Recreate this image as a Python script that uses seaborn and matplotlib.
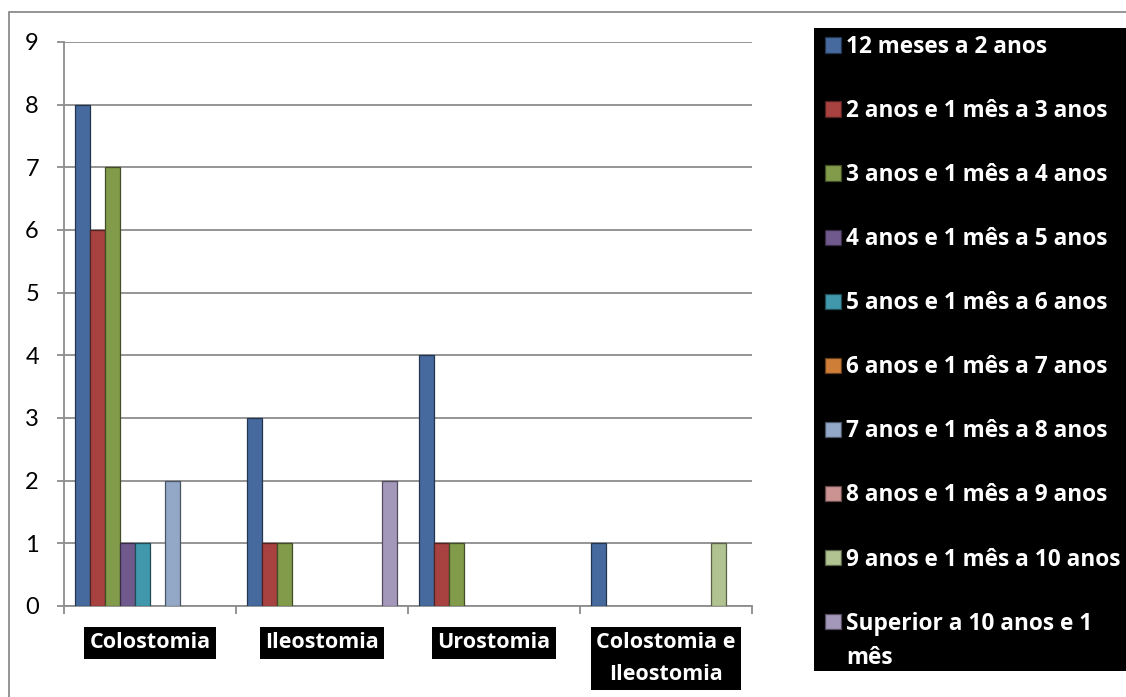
import matplotlib
matplotlib.use("Agg")
import matplotlib.pyplot as plt
import matplotlib.colors as mcolors
from matplotlib.patches import Rectangle
import numpy as np
import pandas as pd
import seaborn as sns

# Tipos de ostomia (eixo x)
ostomias = ["Colostomia", "Ileostomia", "Urostomia", "Colostomia e\nIleostomia"]

# Faixas etárias (séries)
faixas = [
    "12 meses a 2 anos",
    "2 anos e 1 mês a 3 anos",
    "3 anos e 1 mês a 4 anos",
    "4 anos e 1 mês a 5 anos",
    "5 anos e 1 mês a 6 anos",
    "6 anos e 1 mês a 7 anos",
    "7 anos e 1 mês a 8 anos",
    "8 anos e 1 mês a 9 anos",
    "9 anos e 1 mês a 10 anos",
    "Superior a 10 anos e 1 mês",
]
# Quebra de linha do último rótulo da legenda
ultima_linha_1 = "Superior a 10 anos e 1"
ultima_linha_2 = "mês"

# Número de casos por faixa etária, na ordem das ostomias
f_12m_2a = [8, 3, 4, 1]
f_2a_3a = [6, 1, 1, 0]
f_3a_4a = [7, 1, 1, 0]
f_4a_5a = [1, 0, 0, 0]
f_5a_6a = [1, 0, 0, 0]
f_6a_7a = [0, 0, 0, 0]
f_7a_8a = [2, 0, 0, 0]
f_8a_9a = [0, 0, 0, 0]
f_9a_10a = [0, 0, 0, 1]
f_sup_10a = [0, 2, 0, 0]

series = [f_12m_2a, f_2a_3a, f_3a_4a, f_4a_5a, f_5a_6a,
          f_6a_7a, f_7a_8a, f_8a_9a, f_9a_10a, f_sup_10a]

cores = ["#3767ad", "#b8312f", "#87a93c", "#6e5096", "#2fa3be",
         "#e87c1e", "#8aa5d0", "#d48a88", "#b4cb88", "#a292c0"]

registros = []
for faixa, valores in zip(faixas, series):
    for ost, v in zip(ostomias, valores):
        registros.append({"ostomia": ost, "faixa": faixa, "casos": v})
df = pd.DataFrame(registros)

sns.set_theme(style="white")
plt.rcParams["font.family"] = ["Lato", "DejaVu Sans"]

W, H = 1126, 697
fig = plt.figure(figsize=(W / 100, H / 100), dpi=100)
fig.patch.set_facecolor("white")

cinza = "#8c8c8c"
fonte_negrito = ["Open Sans", "DejaVu Sans"]
tam_legenda = 16.3

# Moldura externa do gráfico
fig.patches.append(Rectangle((9 / W, -0.05), 1.2, (1 - 12 / H) + 0.05,
                             transform=fig.transFigure, fill=False,
                             edgecolor=cinza, linewidth=1.3, zorder=0))
# Fundo preto da legenda
fig.patches.append(Rectangle((814 / W, 1 - 671 / H), (W - 814) / W, (671 - 28) / H,
                             transform=fig.transFigure, facecolor="black",
                             edgecolor="none", zorder=0))

ax = fig.add_axes([64 / W, 91 / H, 688 / W, 564 / H])
ax.set_facecolor("none")

sns.barplot(data=df, x="ostomia", y="casos", hue="faixa", order=ostomias,
            hue_order=faixas, palette=cores, width=0.87, gap=0,
            errorbar=None, ax=ax, zorder=3)

# Contorno mais escuro nas barras
for patch in ax.patches:
    fc = np.array(mcolors.to_rgb(patch.get_facecolor()))
    if patch.get_height() == 0:
        patch.set_linewidth(0)
    else:
        patch.set_edgecolor(tuple(fc * 0.5))
        patch.set_linewidth(0.9)

ax.set_xlim(-0.5, 3.5)
ax.set_ylim(0, 9)
ax.set_yticks(range(0, 10))
ax.yaxis.grid(True, color=cinza, linewidth=1.3, zorder=0)
ax.set_axisbelow(True)
ax.set_xlabel("")
ax.set_ylabel("")

for s in ["top", "right"]:
    ax.spines[s].set_visible(False)
for s in ["left", "bottom"]:
    ax.spines[s].set_color(cinza)
    ax.spines[s].set_linewidth(1.3)

ax.tick_params(axis="y", which="major", left=True, length=5, width=1.3,
               color=cinza, pad=13, labelsize=17, labelcolor="black")
ax.set_xticks(np.arange(-0.5, 4, 1), minor=True)
ax.tick_params(axis="x", which="minor", bottom=True, length=6, width=1.3,
               color=cinza)
ax.tick_params(axis="x", which="major", length=0, pad=19)
for lab in ax.get_xticklabels():
    lab.set_fontfamily(fonte_negrito)
    lab.set_fontsize(15.5)
    lab.set_fontweight("bold")
    lab.set_color("white")
    lab.set_multialignment("center")
    lab.set_linespacing(1.65)
    lab.set_bbox(dict(facecolor="black", edgecolor="none", pad=4))

handles, labels = ax.get_legend_handles_labels()
labels = [ultima_linha_1 if l == faixas[-1] else l for l in labels]
ax.get_legend().remove()
leg = fig.legend(handles, labels, loc="upper left",
                 bbox_to_anchor=(825 / W, 1 - 35 / H),
                 bbox_transform=fig.transFigure, frameon=False,
                 prop={"family": fonte_negrito, "weight": "bold", "size": tam_legenda},
                 handlelength=0.72, handleheight=0.68, handletextpad=0.22,
                 labelspacing=1.77, borderpad=0, borderaxespad=0)
for t in leg.get_texts():
    t.set_color("white")
for h in leg.legend_handles:
    fc = np.array(mcolors.to_rgb(h.get_facecolor()))
    h.set_edgecolor(tuple(fc * 0.5))
    h.set_linewidth(0.9)

# Segunda linha do último rótulo, logo abaixo da primeira
fig.canvas.draw()
renderer = fig.canvas.get_renderer()
ult = leg.get_texts()[-1]
bb = ult.get_window_extent(renderer)
fig.text(bb.x0 / W, (bb.y0 - 10) / H, ultima_linha_2, ha="left", va="top",
         color="white", fontfamily=fonte_negrito,
         fontweight="bold", fontsize=tam_legenda)

fig.savefig("out.png", dpi=100, facecolor="white")
